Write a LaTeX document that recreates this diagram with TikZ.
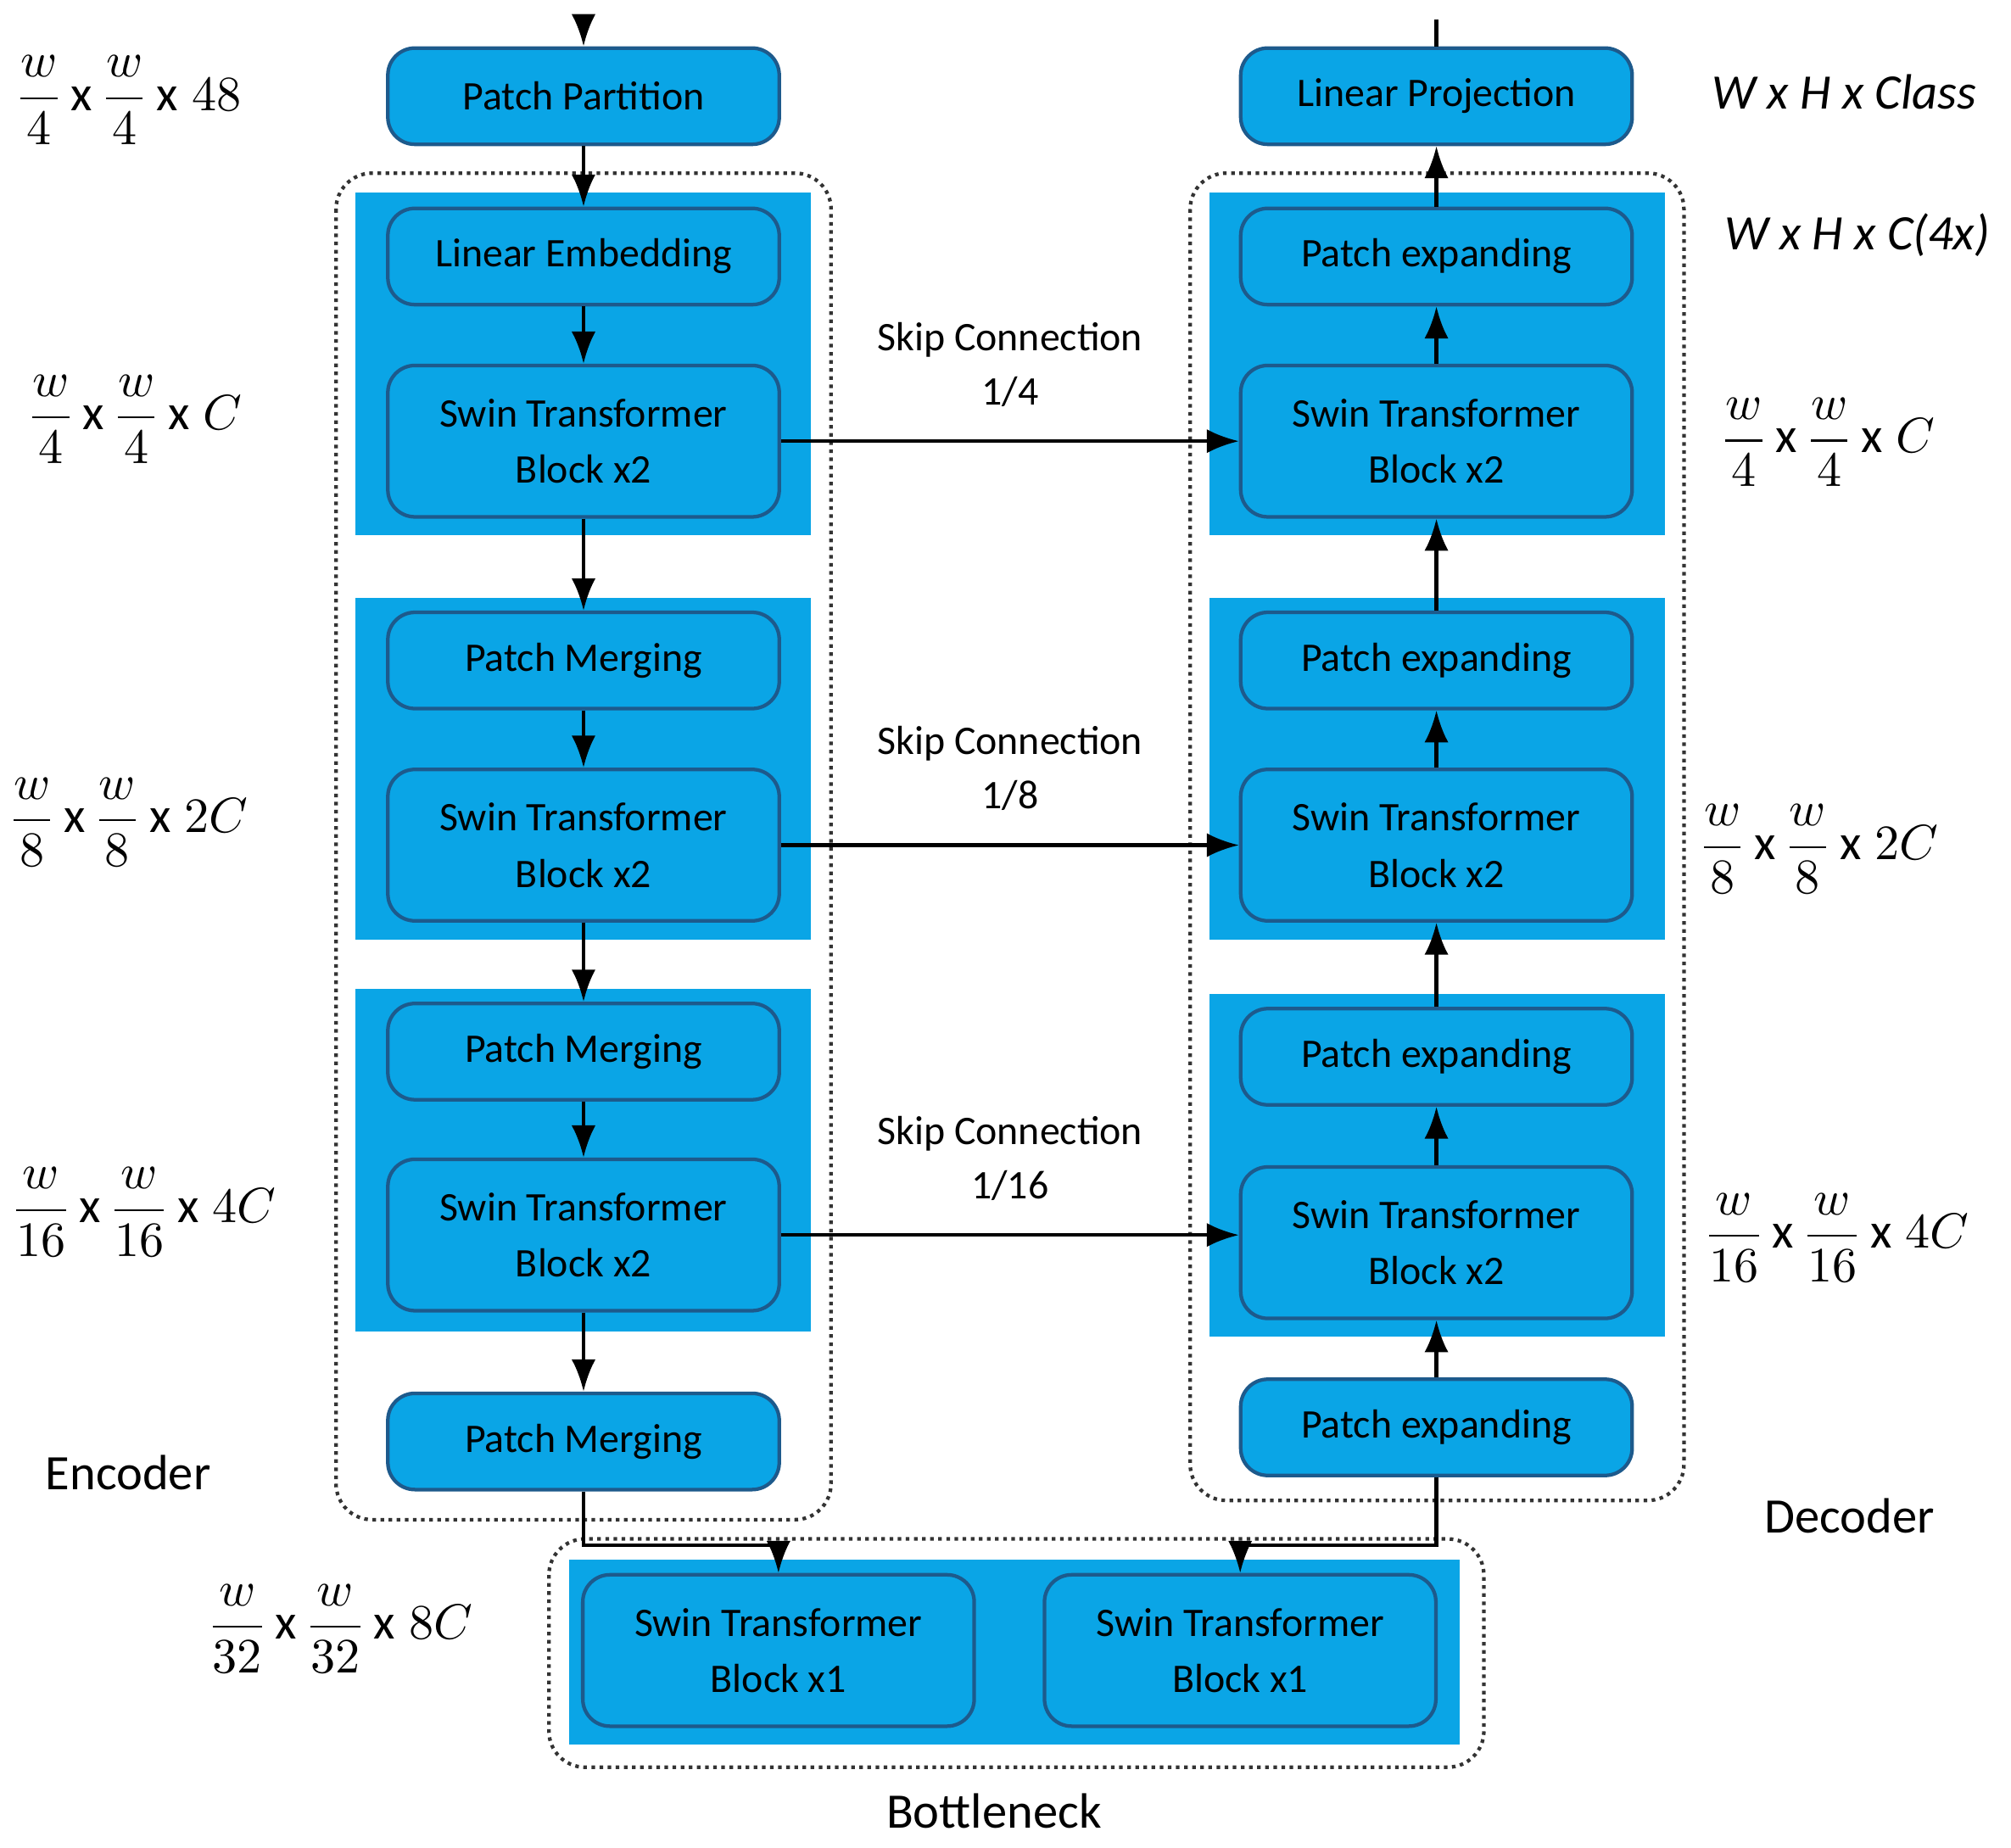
\documentclass[tikz,border=0pt]{standalone}
\usepackage{amsmath}
\usepackage{fontspec}
\setmainfont{Carlito}
\usetikzlibrary{arrows.meta}
\definecolor{swinblue}{HTML}{0AA5E6}
\definecolor{swinedge}{HTML}{1D5A8C}
\tikzset{
  blk/.style={draw=swinedge,thick,fill=swinblue,rounded corners=6pt,minimum width=3.05cm,minimum height=0.75cm,align=center,font=\fontsize{9}{12.5}\selectfont},
  tall/.style={blk,minimum height=1.18cm},
  band/.style={fill=swinblue},
  frame/.style={draw=black!80,densely dotted,thick,rounded corners=8pt},
  flow/.style={-{Latex[length=2.5mm]},thick},
  dim/.style={font=\fontsize{11}{13}\selectfont},
  lbl/.style={font=\fontsize{9}{12}\selectfont,align=center}
}
\newcommand{\wdim}[2]{$\dfrac{w}{#1}\,\mathrm{x}\,\dfrac{w}{#1}\,\mathrm{x}\;#2$}
\begin{document}
\begin{tikzpicture}[x=0.01cm,y=-0.01cm]
\useasboundingbox (0,0) rectangle (1568,1441);
% frames and bands
\draw[frame] (262,135) rectangle (648,1185);
\draw[frame] (928,135) rectangle (1313,1170);
\draw[frame] (428,1200) rectangle (1157,1378);
\fill[band] (277,150) rectangle (632,417);
\fill[band] (277,466) rectangle (632,733);
\fill[band] (277,771) rectangle (632,1038);
\fill[band] (943,150) rectangle (1298,417);
\fill[band] (943,466) rectangle (1298,733);
\fill[band] (943,775) rectangle (1298,1042);
\fill[band] (444,1216) rectangle (1138,1360);
% encoder
\node[blk] (part) at (455,75) {Patch Partition};
\node[blk] (embed) at (455,200) {Linear Embedding};
\node[tall] (enc1) at (455,344) {Swin Transformer\\Block x2};
\node[blk] (merge1) at (455,515) {Patch Merging};
\node[tall] (enc2) at (455,659) {Swin Transformer\\Block x2};
\node[blk] (merge2) at (455,820) {Patch Merging};
\node[tall] (enc3) at (455,963) {Swin Transformer\\Block x2};
\node[blk] (merge3) at (455,1124) {Patch Merging};
% decoder
\node[blk] (proj) at (1120,75) {Linear Projection};
\node[blk] (exp0) at (1120,200) {Patch expanding};
\node[tall] (dec1) at (1120,344) {Swin Transformer\\Block x2};
\node[blk] (exp1) at (1120,515) {Patch expanding};
\node[tall] (dec2) at (1120,659) {Swin Transformer\\Block x2};
\node[blk] (exp2) at (1120,824) {Patch expanding};
\node[tall] (dec3) at (1120,969) {Swin Transformer\\Block x2};
\node[blk] (exp3) at (1120,1113) {Patch expanding};
% bottleneck
\node[tall] (bot1) at (607,1287) {Swin Transformer\\Block x1};
\node[tall] (bot2) at (967,1287) {Swin Transformer\\Block x1};
% connectors
\coordinate (in) at (455,15);
\coordinate (out) at (1120,15);
\draw[flow] (in) -- (part);
\draw[flow] (part) -- (embed);
\draw[flow] (embed) -- (enc1);
\draw[flow] (enc1) -- (merge1);
\draw[flow] (merge1) -- (enc2);
\draw[flow] (enc2) -- (merge2);
\draw[flow] (merge2) -- (enc3);
\draw[flow] (enc3) -- (merge3);
\draw[flow] (merge3.south) |- (607,1205) -- (bot1.north);
\draw[flow] (exp3.south) |- (967,1205) -- (bot2.north);
\draw[flow] (exp3) -- (dec3);
\draw[flow] (dec3) -- (exp2);
\draw[flow] (exp2) -- (dec2);
\draw[flow] (dec2) -- (exp1);
\draw[flow] (exp1) -- (dec1);
\draw[flow] (dec1) -- (exp0);
\draw[flow] (exp0) -- (proj);
\draw[thick] (proj) -- (out);
\draw[flow] (enc1) -- node[lbl,above=4pt] {Skip Connection\\1/4} (dec1);
\draw[flow] (enc2) -- node[lbl,above=4pt] {Skip Connection\\1/8} (dec2);
\draw[flow] (enc3.east) -- node[lbl,above=4pt] {Skip Connection\\1/16} (enc3.east -| dec3.west);
% labels
\node[lbl,font=\fontsize{11}{13}\selectfont] (enc) at (100,1148) {Encoder};
\node[lbl,font=\fontsize{11}{13}\selectfont] (dec) at (1442,1182) {Decoder};
\node[lbl,font=\fontsize{11}{13}\selectfont] (bot) at (775,1412) {Bottleneck};
\node[dim] (d0) at (100,78) {\wdim{4}{48}};
\node[dim] (d1) at (105,327) {\wdim{4}{C}};
\node[dim] (d2) at (100,641) {\wdim{8}{2C}};
\node[dim] (d3) at (112,945) {\wdim{16}{4C}};
\node[dim] (d4) at (265,1270) {\wdim{32}{8C}};
\node[dim,font=\fontsize{11}{13}\itshape] (r0) at (1438,72) {W x H x Class};
\node[dim,font=\fontsize{11}{13}\itshape] (r1) at (1448,183) {W x H x C(4x)};
\node[dim] (r2) at (1425,345) {\wdim{4}{C}};
\node[dim] (r3) at (1418,662) {\wdim{8}{2C}};
\node[dim] (r4) at (1432,965) {\wdim{16}{4C}};
\end{tikzpicture}
\end{document}
